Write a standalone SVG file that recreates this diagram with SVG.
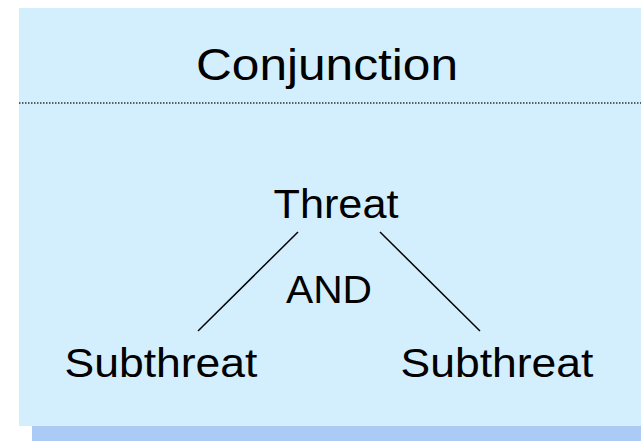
<svg xmlns="http://www.w3.org/2000/svg" width="641" height="441" viewBox="0 0 641 441">
<style>
.t{font-family:"Liberation Sans",Arial,sans-serif;fill:#000;text-anchor:middle}
.c{stroke:#000;stroke-width:1.5;fill:none}
</style>
<rect x="0" y="0" width="641" height="441" fill="#fff"/>
<rect x="32" y="426" width="609" height="15" fill="#abcbf6"/>
<rect x="19" y="8" width="622" height="418" fill="#d3effd"/>
<line x1="19" y1="103" x2="641" y2="103" stroke="#333" stroke-width="1.5" stroke-dasharray="1.5 1.5"/>
<g id="title"><text class="t" x="327" y="80" font-size="44" textLength="262" lengthAdjust="spacingAndGlyphs">Conjunction</text></g>
<g id="threat"><text class="t" x="336" y="218" font-size="40" textLength="125" lengthAdjust="spacingAndGlyphs">Threat</text></g>
<g id="and"><text class="t" x="329" y="303" font-size="38" textLength="86" lengthAdjust="spacingAndGlyphs">AND</text></g>
<g id="sub1"><text class="t" x="161" y="377" font-size="40" textLength="193" lengthAdjust="spacingAndGlyphs">Subthreat</text></g>
<g id="sub2"><text class="t" x="497" y="377" font-size="40" textLength="193" lengthAdjust="spacingAndGlyphs">Subthreat</text></g>
<g id="connectors">
<line class="c" x1="298" y1="232" x2="198" y2="331"/>
<line class="c" x1="380" y1="232" x2="480" y2="331"/>
</g>
</svg>
